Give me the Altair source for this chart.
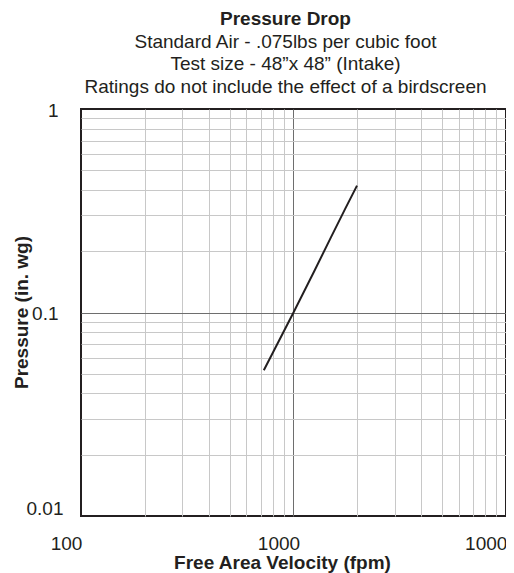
import altair as alt
import pandas as pd

# ---- data ----
velocity = [725, 1000, 1250, 1500, 1750, 1990]          # fpm
pressure = [0.052, 0.1, 0.159, 0.234, 0.323, 0.42]      # in. wg

x_ticks = [100, 200, 300, 400, 500, 600, 700, 800, 900,
           1000, 2000, 3000, 4000, 5000, 6000, 7000, 8000, 9000, 10000]
y_ticks = [0.01, 0.02, 0.03, 0.04, 0.05, 0.06, 0.07, 0.08, 0.09,
           0.1, 0.2, 0.3, 0.4, 0.5, 0.6, 0.7, 0.8, 0.9, 1]
x_labels = [100, 1000, 10000]
y_labels = [0.01, 0.1, 1]

title_text = "Pressure Drop"
subtitle_lines = [
    "Standard Air - .075lbs per cubic foot",
    "Test size - 48\u201dx 48\u201d (Intake)",
    "Ratings do not include the effect of a birdscreen",
]
x_title = "Free Area Velocity (fpm)"
y_title = "Pressure (in. wg)"

INK = "#231f20"
FONT = "Liberation Sans"
MINOR = "#c8c8c8"
MAJOR = "#6e6e6e"

df = pd.DataFrame({"velocity": velocity, "pressure": pressure})

x_axis = alt.Axis(
    values=x_ticks,
    labelExpr="indexof(%s, datum.value) >= 0 ? format(datum.value, 'd') : ''" % str(x_labels),
    ticks=False, domain=False, grid=True,
    gridColor={"condition": {"test": "datum.value == 1000", "value": MAJOR}, "value": MINOR},
    gridOpacity={"condition": {"test": "datum.value == 100 || datum.value == 10000", "value": 0}, "value": 1},
    gridWidth=1,
    labelFont=FONT, labelFontSize=19, labelColor=INK, labelPadding=18, labelOffset=-15,
    labelAlign="center", labelFlush=False, labelOverlap=False, labelBound=False,
    title=x_title, titleFont=FONT, titleFontSize=19, titleFontWeight="bold", titleColor=INK,
    titleX=201, titleY=52, titleBaseline="alphabetic", titleAlign="center",
)

y_axis = alt.Axis(
    values=y_ticks,
    labelExpr="datum.value == 0.01 ? '0.01' : datum.value == 0.1 ? '0.1' : datum.value == 1 ? '1' : ''",
    ticks=False, domain=False, grid=True,
    gridColor={"condition": {"test": "datum.value == 0.1", "value": MAJOR}, "value": MINOR},
    gridOpacity={"condition": {"test": "datum.value == 0.01 || datum.value == 1", "value": 0}, "value": 1},
    gridWidth=1,
    labelFont=FONT, labelFontSize=19, labelColor=INK,
    labelPadding={"condition": {"test": "datum.value == 0.01", "value": 18}, "value": 23},
    labelOffset={"condition": {"test": "datum.value == 0.01", "value": -8}, "value": 1},
    labelAlign="right", labelBaseline="middle", labelFlush=False, labelOverlap=False, labelBound=False,
    title=y_title, titleFont=FONT, titleFontSize=19, titleFontWeight="bold", titleColor=INK,
    titleX=-54, titleY=203, titleBaseline="alphabetic", titleAlign="center", titleAngle=270,
)

chart = (
    alt.Chart(df)
    .mark_line(color=INK, strokeWidth=2)
    .encode(
        x=alt.X("velocity:Q", scale=alt.Scale(type="log", domain=[100, 10000], nice=False), axis=x_axis),
        y=alt.Y("pressure:Q", scale=alt.Scale(type="log", domain=[0.01, 1], nice=False), axis=y_axis),
    )
    .properties(
        width=425,
        height=407,
        title=alt.TitleParams(
            text=title_text,
            subtitle=subtitle_lines,
            font=FONT, fontSize=19, fontWeight="bold", color=INK,
            subtitleFont=FONT, subtitleFontSize=19, subtitleColor=INK,
            subtitleLineHeight=22.6, subtitlePadding=4,
            anchor="middle", dx=-8, offset=4,
        ),
        autosize=alt.AutoSizeParams(type="none"),
        padding={"left": 73, "top": 101, "right": 0, "bottom": 57},
    )
    .configure(background="white", view=alt.ViewConfig(stroke=INK, strokeWidth=2))
)

chart.save("out.html", embed_options={"renderer": "svg", "actions": False})
